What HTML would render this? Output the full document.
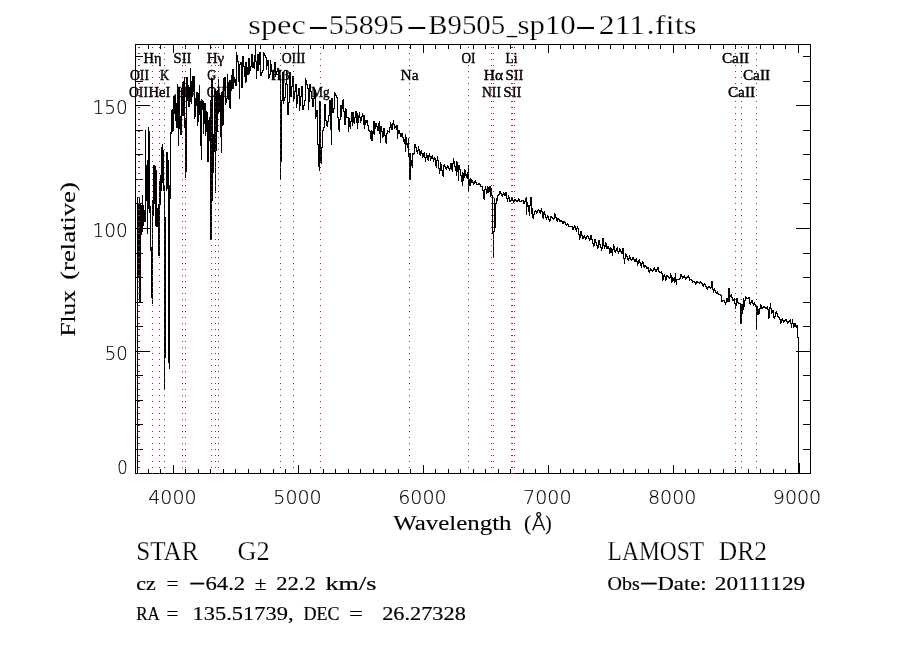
<!DOCTYPE html>
<html lang="en"><head><meta charset="utf-8"><title>spec-55895-B9505_sp10-211.fits</title>
<style>html,body{margin:0;padding:0;background:#fff;overflow:hidden}svg{display:block;will-change:transform;opacity:.999}.s{font-family:"Liberation Serif","DejaVu Serif",serif;fill:#000}.n{font-family:"DejaVu Sans","Liberation Sans",sans-serif;font-weight:200;fill:#000}</style></head><body>
<svg width="900" height="650" viewBox="0 0 900 650">
<rect x="0" y="0" width="900" height="650" fill="#fff"/>
<g fill="#000" shape-rendering="crispEdges">
<rect x="135" y="44" width="676" height="1"/>
<rect x="135" y="473" width="676" height="1"/>
<rect x="135" y="44" width="1" height="430"/>
<rect x="810" y="44" width="1" height="430"/>
<rect x="148" y="469" width="1" height="5"/>
<rect x="148" y="44" width="1" height="5"/>
<rect x="160" y="469" width="1" height="5"/>
<rect x="160" y="44" width="1" height="5"/>
<rect x="173" y="465" width="1" height="9"/>
<rect x="173" y="44" width="1" height="9"/>
<rect x="185" y="469" width="1" height="5"/>
<rect x="185" y="44" width="1" height="5"/>
<rect x="198" y="469" width="1" height="5"/>
<rect x="198" y="44" width="1" height="5"/>
<rect x="210" y="469" width="1" height="5"/>
<rect x="210" y="44" width="1" height="5"/>
<rect x="223" y="469" width="1" height="5"/>
<rect x="223" y="44" width="1" height="5"/>
<rect x="235" y="469" width="1" height="5"/>
<rect x="235" y="44" width="1" height="5"/>
<rect x="248" y="469" width="1" height="5"/>
<rect x="248" y="44" width="1" height="5"/>
<rect x="260" y="469" width="1" height="5"/>
<rect x="260" y="44" width="1" height="5"/>
<rect x="273" y="469" width="1" height="5"/>
<rect x="273" y="44" width="1" height="5"/>
<rect x="285" y="469" width="1" height="5"/>
<rect x="285" y="44" width="1" height="5"/>
<rect x="298" y="465" width="1" height="9"/>
<rect x="298" y="44" width="1" height="9"/>
<rect x="310" y="469" width="1" height="5"/>
<rect x="310" y="44" width="1" height="5"/>
<rect x="323" y="469" width="1" height="5"/>
<rect x="323" y="44" width="1" height="5"/>
<rect x="335" y="469" width="1" height="5"/>
<rect x="335" y="44" width="1" height="5"/>
<rect x="348" y="469" width="1" height="5"/>
<rect x="348" y="44" width="1" height="5"/>
<rect x="360" y="469" width="1" height="5"/>
<rect x="360" y="44" width="1" height="5"/>
<rect x="373" y="469" width="1" height="5"/>
<rect x="373" y="44" width="1" height="5"/>
<rect x="385" y="469" width="1" height="5"/>
<rect x="385" y="44" width="1" height="5"/>
<rect x="398" y="469" width="1" height="5"/>
<rect x="398" y="44" width="1" height="5"/>
<rect x="410" y="469" width="1" height="5"/>
<rect x="410" y="44" width="1" height="5"/>
<rect x="423" y="465" width="1" height="9"/>
<rect x="423" y="44" width="1" height="9"/>
<rect x="435" y="469" width="1" height="5"/>
<rect x="435" y="44" width="1" height="5"/>
<rect x="448" y="469" width="1" height="5"/>
<rect x="448" y="44" width="1" height="5"/>
<rect x="460" y="469" width="1" height="5"/>
<rect x="460" y="44" width="1" height="5"/>
<rect x="473" y="469" width="1" height="5"/>
<rect x="473" y="44" width="1" height="5"/>
<rect x="485" y="469" width="1" height="5"/>
<rect x="485" y="44" width="1" height="5"/>
<rect x="498" y="469" width="1" height="5"/>
<rect x="498" y="44" width="1" height="5"/>
<rect x="510" y="469" width="1" height="5"/>
<rect x="510" y="44" width="1" height="5"/>
<rect x="523" y="469" width="1" height="5"/>
<rect x="523" y="44" width="1" height="5"/>
<rect x="535" y="469" width="1" height="5"/>
<rect x="535" y="44" width="1" height="5"/>
<rect x="548" y="465" width="1" height="9"/>
<rect x="548" y="44" width="1" height="9"/>
<rect x="560" y="469" width="1" height="5"/>
<rect x="560" y="44" width="1" height="5"/>
<rect x="573" y="469" width="1" height="5"/>
<rect x="573" y="44" width="1" height="5"/>
<rect x="585" y="469" width="1" height="5"/>
<rect x="585" y="44" width="1" height="5"/>
<rect x="598" y="469" width="1" height="5"/>
<rect x="598" y="44" width="1" height="5"/>
<rect x="610" y="469" width="1" height="5"/>
<rect x="610" y="44" width="1" height="5"/>
<rect x="623" y="469" width="1" height="5"/>
<rect x="623" y="44" width="1" height="5"/>
<rect x="635" y="469" width="1" height="5"/>
<rect x="635" y="44" width="1" height="5"/>
<rect x="648" y="469" width="1" height="5"/>
<rect x="648" y="44" width="1" height="5"/>
<rect x="660" y="469" width="1" height="5"/>
<rect x="660" y="44" width="1" height="5"/>
<rect x="673" y="465" width="1" height="9"/>
<rect x="673" y="44" width="1" height="9"/>
<rect x="685" y="469" width="1" height="5"/>
<rect x="685" y="44" width="1" height="5"/>
<rect x="698" y="469" width="1" height="5"/>
<rect x="698" y="44" width="1" height="5"/>
<rect x="710" y="469" width="1" height="5"/>
<rect x="710" y="44" width="1" height="5"/>
<rect x="723" y="469" width="1" height="5"/>
<rect x="723" y="44" width="1" height="5"/>
<rect x="735" y="469" width="1" height="5"/>
<rect x="735" y="44" width="1" height="5"/>
<rect x="748" y="469" width="1" height="5"/>
<rect x="748" y="44" width="1" height="5"/>
<rect x="760" y="469" width="1" height="5"/>
<rect x="760" y="44" width="1" height="5"/>
<rect x="773" y="469" width="1" height="5"/>
<rect x="773" y="44" width="1" height="5"/>
<rect x="785" y="469" width="1" height="5"/>
<rect x="785" y="44" width="1" height="5"/>
<rect x="798" y="465" width="1" height="9"/>
<rect x="798" y="44" width="1" height="9"/>
<rect x="135" y="449" width="8" height="1"/>
<rect x="803" y="449" width="8" height="1"/>
<rect x="135" y="424" width="8" height="1"/>
<rect x="803" y="424" width="8" height="1"/>
<rect x="135" y="400" width="8" height="1"/>
<rect x="803" y="400" width="8" height="1"/>
<rect x="135" y="375" width="8" height="1"/>
<rect x="803" y="375" width="8" height="1"/>
<rect x="135" y="351" width="15" height="1"/>
<rect x="796" y="351" width="15" height="1"/>
<rect x="135" y="326" width="8" height="1"/>
<rect x="803" y="326" width="8" height="1"/>
<rect x="135" y="302" width="8" height="1"/>
<rect x="803" y="302" width="8" height="1"/>
<rect x="135" y="277" width="8" height="1"/>
<rect x="803" y="277" width="8" height="1"/>
<rect x="135" y="253" width="8" height="1"/>
<rect x="803" y="253" width="8" height="1"/>
<rect x="135" y="228" width="15" height="1"/>
<rect x="796" y="228" width="15" height="1"/>
<rect x="135" y="203" width="8" height="1"/>
<rect x="803" y="203" width="8" height="1"/>
<rect x="135" y="179" width="8" height="1"/>
<rect x="803" y="179" width="8" height="1"/>
<rect x="135" y="154" width="8" height="1"/>
<rect x="803" y="154" width="8" height="1"/>
<rect x="135" y="130" width="8" height="1"/>
<rect x="803" y="130" width="8" height="1"/>
<rect x="135" y="105" width="15" height="1"/>
<rect x="796" y="105" width="15" height="1"/>
<rect x="135" y="81" width="8" height="1"/>
<rect x="803" y="81" width="8" height="1"/>
<rect x="135" y="56" width="8" height="1"/>
<rect x="803" y="56" width="8" height="1"/>
</g>
<path d="M137.5 197V474M138.5 203V277M139.5 197V303M140.5 204V303M141.5 205V235M142.5 195V232M143.5 205V226M144.5 210V222M145.5 130V222M146.5 165V201M147.5 160V234M148.5 127V209M149.5 131V213M150.5 206V251M151.5 247V298M152.5 200V304M153.5 165V216M154.5 165V204M155.5 166V226M156.5 170V227M157.5 208V227M158.5 204V256M159.5 181V256M160.5 175V205M161.5 147V191M162.5 144V183M163.5 150V191M164.5 185V390M165.5 217V358M166.5 152V191M167.5 152V189M168.5 160V363M169.5 185V369M170.5 132V199M171.5 110V134M172.5 109V132M173.5 96V131M174.5 95V114M175.5 94V121M176.5 103V128M177.5 84V128M178.5 87V146M179.5 87V129M180.5 116V135M181.5 88V135M182.5 82V116M183.5 81V116M184.5 77V128M185.5 118V178M186.5 77V172M187.5 77V101M188.5 85V107M189.5 87V107M190.5 68V102M191.5 81V104M192.5 76V97M193.5 76V92M194.5 76V119M195.5 98V117M196.5 92V106M197.5 92V126M198.5 93V122M199.5 85V115M200.5 101V146M201.5 99V160M202.5 100V110M203.5 101V134M204.5 103V124M205.5 103V136M206.5 111V132M207.5 112V162M208.5 120V162M209.5 117V141M210.5 100V240M211.5 78V240M212.5 78V201M213.5 134V173M214.5 90V152M215.5 92V193M216.5 91V151M217.5 90V132M218.5 79V113M219.5 93V112M220.5 95V137M221.5 92V153M222.5 91V126M223.5 78V125M224.5 77V91M225.5 77V105M226.5 98V103M227.5 74V99M228.5 82V100M229.5 80V108M230.5 80V109M231.5 75V91M232.5 69V89M233.5 69V89M234.5 77V83M235.5 79V86M236.5 52V86M237.5 55V62M238.5 61V82M239.5 64V99M240.5 62V65M241.5 62V88M242.5 56V88M243.5 56V67M244.5 66V77M245.5 62V83M246.5 62V82M247.5 67V75M248.5 58V75M249.5 58V74M250.5 66V71M251.5 54V67M252.5 54V68M253.5 62V68M254.5 55V69M255.5 45V62M256.5 61V79M257.5 54V71M258.5 54V71M259.5 52V65M260.5 52V76M261.5 72V76M262.5 70V73M263.5 52V71M264.5 53V56M265.5 55V58M266.5 57V70M267.5 60V66M268.5 60V79M269.5 74V78M270.5 60V75M271.5 64V72M272.5 71V80M273.5 71V80M274.5 62V72M275.5 62V77M276.5 71V75M277.5 68V72M278.5 68V80M279.5 75V78M280.5 75V180M281.5 100V162M282.5 72V101M283.5 72V104M284.5 97V101M285.5 83V98M286.5 70V85M287.5 84V115M288.5 102V115M289.5 72V103M290.5 72V97M291.5 86V97M292.5 76V87M293.5 76V102M294.5 91V99M295.5 84V92M296.5 84V108M297.5 95V104M298.5 88V96M299.5 88V111M300.5 96V106M301.5 86V97M302.5 86V110M303.5 105V110M304.5 100V106M305.5 78V101M306.5 80V85M307.5 84V89M308.5 88V110M309.5 84V102M310.5 84V92M311.5 91V99M312.5 98V107M313.5 98V107M314.5 90V99M315.5 90V119M316.5 110V117M317.5 110V145M318.5 144V167M319.5 101V171M320.5 101V163M321.5 147V164M322.5 130V148M323.5 127V131M324.5 104V128M325.5 104V121M326.5 120V126M327.5 121V127M328.5 115V122M329.5 100V116M330.5 100V130M331.5 98V145M332.5 98V113M333.5 108V113M334.5 92V109M335.5 93V96M336.5 95V98M337.5 97V118M338.5 117V130M339.5 119V132M340.5 105V120M341.5 105V117M342.5 100V109M343.5 99V112M344.5 111V125M345.5 108V125M346.5 109V118M347.5 117V118M348.5 117V132M349.5 118V127M350.5 121V129M351.5 112V122M352.5 112V126M353.5 112V123M354.5 117V124M355.5 111V118M356.5 111V123M357.5 113V129M358.5 115V123M359.5 112V118M360.5 117V123M361.5 116V121M362.5 113V117M363.5 115V125M364.5 115V129M365.5 120V125M366.5 120V123M367.5 120V126M368.5 125V131M369.5 130V132M370.5 131V139M371.5 130V141M372.5 131V141M373.5 121V134M374.5 121V135M375.5 123V129M376.5 123V127M377.5 126V131M378.5 123V131M379.5 121V134M380.5 126V143M381.5 126V132M382.5 131V138M383.5 128V137M384.5 128V136M385.5 135V143M386.5 133V144M387.5 130V134M388.5 131V132M389.5 127V133M390.5 122V128M391.5 124V130M392.5 123V130M393.5 120V125M394.5 124V129M395.5 126V128M396.5 125V130M397.5 125V139M398.5 130V134M399.5 130V134M400.5 133V137M401.5 133V137M402.5 133V138M403.5 137V142M404.5 139V144M405.5 134V152M406.5 137V145M407.5 143V148M408.5 138V157M409.5 153V180M410.5 153V180M411.5 160V166M412.5 153V168M413.5 153V155M414.5 144V154M415.5 144V148M416.5 147V152M417.5 150V154M418.5 146V151M419.5 149V155M420.5 151V156M421.5 150V154M422.5 153V158M423.5 153V157M424.5 152V158M425.5 157V162M426.5 153V158M427.5 155V160M428.5 155V161M429.5 153V157M430.5 156V161M431.5 156V159M432.5 155V159M433.5 158V162M434.5 157V160M435.5 158V166M436.5 160V168M437.5 156V161M438.5 160V169M439.5 168V174M440.5 162V171M441.5 164V171M442.5 170V176M443.5 165V177M444.5 164V167M445.5 166V169M446.5 167V170M447.5 165V168M448.5 166V169M449.5 168V171M450.5 163V169M451.5 163V170M452.5 163V172M453.5 158V164M454.5 161V167M455.5 166V171M456.5 161V176M457.5 162V172M458.5 165V181M459.5 165V170M460.5 169V176M461.5 175V182M462.5 172V186M463.5 173V181M464.5 169V178M465.5 170V176M466.5 174V178M467.5 172V179M468.5 165V191M469.5 179V186M470.5 178V186M471.5 179V183M472.5 180V183M473.5 182V185M474.5 181V184M475.5 180V183M476.5 182V185M477.5 184V185M478.5 183V185M479.5 183V185M480.5 184V187M481.5 186V187M482.5 186V191M483.5 190V199M484.5 189V200M485.5 186V190M486.5 189V194M487.5 186V193M488.5 187V193M489.5 186V192M490.5 186V197M491.5 188V196M492.5 195V234M493.5 231V258M494.5 198V232M495.5 203V228M496.5 198V204M497.5 195V201M498.5 194V196M499.5 191V195M500.5 191V194M501.5 193V196M502.5 194V197M503.5 192V195M504.5 193V196M505.5 192V196M506.5 192V199M507.5 198V202M508.5 195V199M509.5 197V202M510.5 200V202M511.5 198V201M512.5 198V201M513.5 200V203M514.5 199V202M515.5 199V201M516.5 200V202M517.5 200V202M518.5 198V201M519.5 199V202M520.5 201V202M521.5 200V202M522.5 200V201M523.5 200V204M524.5 201V204M525.5 198V202M526.5 197V215M527.5 202V207M528.5 205V212M529.5 205V216M530.5 197V206M531.5 197V214M532.5 208V218M533.5 214V219M534.5 211V215M535.5 210V212M536.5 211V214M537.5 210V213M538.5 209V211M539.5 210V213M540.5 210V214M541.5 208V212M542.5 211V218M543.5 212V219M544.5 211V215M545.5 214V218M546.5 217V220M547.5 215V218M548.5 216V220M549.5 219V222M550.5 216V221M551.5 216V218M552.5 217V219M553.5 218V220M554.5 213V219M555.5 214V218M556.5 217V221M557.5 218V222M558.5 218V220M559.5 219V222M560.5 220V222M561.5 220V222M562.5 221V224M563.5 221V224M564.5 221V223M565.5 222V225M566.5 224V226M567.5 223V225M568.5 224V227M569.5 226V227M570.5 226V227M571.5 226V227M572.5 226V230M573.5 227V230M574.5 225V228M575.5 226V230M576.5 228V232M577.5 226V229M578.5 228V235M579.5 234V240M580.5 231V238M581.5 231V236M582.5 235V239M583.5 236V239M584.5 235V238M585.5 237V240M586.5 236V239M587.5 235V237M588.5 236V239M589.5 238V241M590.5 235V240M591.5 235V240M592.5 239V244M593.5 243V247M594.5 239V246M595.5 239V243M596.5 242V246M597.5 245V249M598.5 240V248M599.5 240V245M600.5 244V248M601.5 247V251M602.5 238V249M603.5 238V246M604.5 245V249M605.5 242V247M606.5 243V249M607.5 246V249M608.5 246V249M609.5 248V254M610.5 247V253M611.5 248V253M612.5 249V256M613.5 244V250M614.5 246V252M615.5 250V253M616.5 248V251M617.5 247V252M618.5 251V254M619.5 248V252M620.5 249V252M621.5 251V254M622.5 248V254M623.5 248V259M624.5 258V264M625.5 253V259M626.5 254V257M627.5 256V260M628.5 258V261M629.5 255V259M630.5 257V260M631.5 259V261M632.5 257V260M633.5 257V260M634.5 259V262M635.5 259V262M636.5 258V262M637.5 261V266M638.5 260V264M639.5 259V263M640.5 262V266M641.5 263V268M642.5 261V264M643.5 262V267M644.5 265V268M645.5 265V267M646.5 266V269M647.5 267V269M648.5 267V272M649.5 270V273M650.5 268V271M651.5 269V271M652.5 270V272M653.5 268V271M654.5 267V270M655.5 269V272M656.5 269V272M657.5 267V270M658.5 267V272M659.5 271V273M660.5 272V273M661.5 271V274M662.5 273V281M663.5 275V280M664.5 274V277M665.5 276V281M666.5 275V280M667.5 275V277M668.5 276V278M669.5 277V279M670.5 273V278M671.5 275V283M672.5 277V282M673.5 278V281M674.5 277V283M675.5 273V282M676.5 279V285M677.5 279V280M678.5 279V280M679.5 278V280M680.5 274V279M681.5 274V277M682.5 276V279M683.5 276V278M684.5 275V278M685.5 277V280M686.5 277V279M687.5 276V278M688.5 275V278M689.5 277V281M690.5 279V280M691.5 279V281M692.5 280V283M693.5 281V282M694.5 281V283M695.5 282V285M696.5 281V284M697.5 281V283M698.5 282V283M699.5 282V284M700.5 281V283M701.5 282V284M702.5 283V286M703.5 284V287M704.5 283V285M705.5 284V287M706.5 286V289M707.5 287V290M708.5 286V288M709.5 286V288M710.5 287V289M711.5 281V288M712.5 281V290M713.5 289V293M714.5 288V291M715.5 290V293M716.5 292V294M717.5 291V294M718.5 293V295M719.5 294V295M720.5 294V296M721.5 295V302M722.5 300V302M723.5 300V301M724.5 300V303M725.5 302V305M726.5 298V303M727.5 298V302M728.5 288V302M729.5 288V302M730.5 295V297M731.5 294V298M732.5 297V301M733.5 299V301M734.5 298V304M735.5 303V309M736.5 298V306M737.5 298V303M738.5 302V304M739.5 303V304M740.5 303V324M741.5 304V323M742.5 304V314M743.5 298V310M744.5 300V307M745.5 296V301M746.5 297V299M747.5 298V299M748.5 297V299M749.5 297V304M750.5 302V305M751.5 300V303M752.5 300V304M753.5 303V306M754.5 302V305M755.5 304V307M756.5 305V329M757.5 306V315M758.5 309V315M759.5 308V314M760.5 304V309M761.5 305V309M762.5 307V309M763.5 306V308M764.5 306V308M765.5 307V309M766.5 307V309M767.5 306V310M768.5 309V319M769.5 307V318M770.5 303V309M771.5 308V314M772.5 310V313M773.5 310V318M774.5 316V319M775.5 312V317M776.5 311V314M777.5 313V317M778.5 316V318M779.5 317V320M780.5 319V324M781.5 319V323M782.5 318V321M783.5 320V323M784.5 320V322M785.5 319V321M786.5 319V322M787.5 321V324M788.5 321V323M789.5 320V322M790.5 319V324M791.5 323V328M792.5 319V324M793.5 323V328M794.5 323V327M795.5 323V327M796.5 325V328M797.5 325V338M798.5 337V474M799.5 463V474" fill="none" stroke="#000" stroke-width="1" shape-rendering="crispEdges" stroke-linejoin="miter"/>
<g stroke="#b22222" stroke-width="1" stroke-dasharray="1 5" shape-rendering="crispEdges">
<line x1="138.5" y1="47" x2="138.5" y2="474"/>
<line x1="139.5" y1="47" x2="139.5" y2="474"/>
<line x1="152.5" y1="47" x2="152.5" y2="474"/>
<line x1="159.5" y1="47" x2="159.5" y2="474"/>
<line x1="164.5" y1="47" x2="164.5" y2="474"/>
<line x1="182.5" y1="47" x2="182.5" y2="474"/>
<line x1="185.5" y1="47" x2="185.5" y2="474"/>
<line x1="211.5" y1="47" x2="211.5" y2="474"/>
<line x1="215.5" y1="47" x2="215.5" y2="474"/>
<line x1="218.5" y1="47" x2="218.5" y2="474"/>
<line x1="280.5" y1="47" x2="280.5" y2="474"/>
<line x1="293.5" y1="47" x2="293.5" y2="474"/>
<line x1="320.5" y1="47" x2="320.5" y2="474"/>
<line x1="409.5" y1="47" x2="409.5" y2="474"/>
<line x1="468.5" y1="47" x2="468.5" y2="474"/>
<line x1="491.5" y1="47" x2="491.5" y2="474"/>
<line x1="493.5" y1="47" x2="493.5" y2="474"/>
<line x1="511.5" y1="47" x2="511.5" y2="474"/>
<line x1="512.5" y1="47" x2="512.5" y2="474"/>
<line x1="514.5" y1="47" x2="514.5" y2="474"/>
<line x1="735.5" y1="47" x2="735.5" y2="474"/>
<line x1="741.5" y1="47" x2="741.5" y2="474"/>
<line x1="756.5" y1="47" x2="756.5" y2="474"/>
</g>
<text class="s" font-size="26.6" y="33.5" xml:space="preserve" stroke="#fff" stroke-width="0.25"><tspan x="248.3" y="33.5" textLength="57.5" lengthAdjust="spacingAndGlyphs">spec</tspan><tspan x="307.5" y="33.5" stroke="none" textLength="21.6" lengthAdjust="spacingAndGlyphs">-</tspan><tspan x="328.8" y="33.5" textLength="74.9" lengthAdjust="spacingAndGlyphs">55895</tspan><tspan x="406.1" y="33.5" stroke="none" textLength="21.6" lengthAdjust="spacingAndGlyphs">-</tspan><tspan x="428.3" y="33.5" textLength="76.9" lengthAdjust="spacingAndGlyphs">B9505</tspan><tspan x="506.8" y="33.5" textLength="10.4" lengthAdjust="spacingAndGlyphs">_</tspan><tspan x="517.5" y="33.5" textLength="58.3" lengthAdjust="spacingAndGlyphs">sp10</tspan><tspan x="574.8" y="33.5" stroke="none" textLength="21.6" lengthAdjust="spacingAndGlyphs">-</tspan><tspan x="598.8" y="33.5" textLength="46.4" lengthAdjust="spacingAndGlyphs">211</tspan><tspan x="646.5" y="33.5" textLength="50.1" lengthAdjust="spacingAndGlyphs">.fits</tspan></text>
<text class="n" font-size="19.2" y="504" xml:space="preserve" stroke="#000" stroke-width="0.12"><tspan x="148.20000000000002" y="504" textLength="48.4" lengthAdjust="spacingAndGlyphs">4000</tspan></text>
<text class="n" font-size="19.2" y="504" xml:space="preserve" stroke="#000" stroke-width="0.12"><tspan x="273.3" y="504" textLength="48.4" lengthAdjust="spacingAndGlyphs">5000</tspan></text>
<text class="n" font-size="19.2" y="504" xml:space="preserve" stroke="#000" stroke-width="0.12"><tspan x="398.2" y="504" textLength="48.4" lengthAdjust="spacingAndGlyphs">6000</tspan></text>
<text class="n" font-size="19.2" y="504" xml:space="preserve" stroke="#000" stroke-width="0.12"><tspan x="523.0999999999999" y="504" textLength="48.4" lengthAdjust="spacingAndGlyphs">7000</tspan></text>
<text class="n" font-size="19.2" y="504" xml:space="preserve" stroke="#000" stroke-width="0.12"><tspan x="648.0" y="504" textLength="48.4" lengthAdjust="spacingAndGlyphs">8000</tspan></text>
<text class="n" font-size="19.2" y="504" xml:space="preserve" stroke="#000" stroke-width="0.12"><tspan x="772.8" y="504" textLength="48.4" lengthAdjust="spacingAndGlyphs">9000</tspan></text>
<text class="n" font-size="19.2" y="473.5" xml:space="preserve" stroke="#000" stroke-width="0.12"><tspan x="117.3" y="473.5" textLength="10.5" lengthAdjust="spacingAndGlyphs">0</tspan></text>
<text class="n" font-size="19.2" y="360" xml:space="preserve" stroke="#000" stroke-width="0.12"><tspan x="104.8" y="360" textLength="23.0" lengthAdjust="spacingAndGlyphs">50</tspan></text>
<text class="n" font-size="19.2" y="237" xml:space="preserve" stroke="#000" stroke-width="0.12"><tspan x="92.6" y="237" textLength="35.2" lengthAdjust="spacingAndGlyphs">100</tspan></text>
<text class="n" font-size="19.2" y="114" xml:space="preserve" stroke="#000" stroke-width="0.12"><tspan x="92.6" y="114" textLength="35.2" lengthAdjust="spacingAndGlyphs">150</tspan></text>
<text class="s" font-size="21.6" y="529.6" xml:space="preserve" stroke="#000" stroke-width="0.12"><tspan x="393.2" y="529.6" textLength="118.4" lengthAdjust="spacingAndGlyphs">Wavelength</tspan> <tspan x="524.0" y="529.6" textLength="7.2" lengthAdjust="spacingAndGlyphs">(</tspan><tspan x="531.8" class="n" font-size="19.5" stroke-width="0.3" y="529.6" textLength="14.0" lengthAdjust="spacingAndGlyphs">Å</tspan><tspan x="545.2" y="529.6" textLength="6.4" lengthAdjust="spacingAndGlyphs">)</tspan></text>
<text class="s" font-size="21.6" y="74.6" xml:space="preserve" transform="rotate(-90)" stroke="#000" stroke-width="0.12"><tspan x="-336.6" y="74.6" textLength="46.4" lengthAdjust="spacingAndGlyphs">Flux</tspan> <tspan x="-279.8" y="74.6" textLength="97.6" lengthAdjust="spacingAndGlyphs">(relative)</tspan></text>
<text class="s" font-size="26.6" y="560.2" xml:space="preserve" stroke="#fff" stroke-width="0.25"><tspan x="136.2" y="560.2" textLength="62.3" lengthAdjust="spacingAndGlyphs">STAR</tspan>    <tspan x="237.5" y="560.2" textLength="32.2" lengthAdjust="spacingAndGlyphs">G2</tspan></text>
<text class="s" font-size="19.6" y="589.6" xml:space="preserve" stroke="#000" stroke-width="0.18"><tspan x="136.2" y="589.6" textLength="19.6" lengthAdjust="spacingAndGlyphs">cz</tspan> <tspan x="166.6" y="589.6" textLength="12.0" lengthAdjust="spacingAndGlyphs">=</tspan> <tspan x="188.6" y="588.13" textLength="17.4" lengthAdjust="spacingAndGlyphs">-</tspan><tspan x="205.5" y="589.6" textLength="39.7" lengthAdjust="spacingAndGlyphs">64.2</tspan> <tspan x="254.8" y="589.6" textLength="11.8" lengthAdjust="spacingAndGlyphs">±</tspan> <tspan x="276.2" y="589.6" textLength="39.6" lengthAdjust="spacingAndGlyphs">22.2</tspan> <tspan x="325.5" y="589.6" textLength="51.0" lengthAdjust="spacingAndGlyphs">km/s</tspan></text>
<text class="s" font-size="19.6" y="619.7" xml:space="preserve" stroke="#000" stroke-width="0.18"><tspan x="136.2" y="619.7" textLength="22.6" lengthAdjust="spacingAndGlyphs">RA</tspan> <tspan x="166.6" y="619.7" textLength="12.0" lengthAdjust="spacingAndGlyphs">=</tspan> <tspan x="192.5" y="619.7" textLength="101.0" lengthAdjust="spacingAndGlyphs">135.51739,</tspan> <tspan x="303.5" y="619.7" textLength="36.0" lengthAdjust="spacingAndGlyphs">DEC</tspan> <tspan x="349.0" y="619.7" textLength="14.0" lengthAdjust="spacingAndGlyphs">=</tspan>  <tspan x="382.2" y="619.7" textLength="83.6" lengthAdjust="spacingAndGlyphs">26.27328</tspan></text>
<text class="s" font-size="26.6" y="560.2" xml:space="preserve" stroke="#fff" stroke-width="0.25"><tspan x="607.6" y="560.2" textLength="96.2" lengthAdjust="spacingAndGlyphs">LAMOST</tspan> <tspan x="718.8" y="560.2" textLength="48.2" lengthAdjust="spacingAndGlyphs">DR2</tspan></text>
<text class="s" font-size="19.6" y="589.7" xml:space="preserve" stroke="#000" stroke-width="0.18"><tspan x="607.6" y="589.7" textLength="32.2" lengthAdjust="spacingAndGlyphs">Obs</tspan><tspan x="639.0" y="588.23" textLength="19.6" lengthAdjust="spacingAndGlyphs">-</tspan><tspan x="657.5" y="589.7" textLength="49.0" lengthAdjust="spacingAndGlyphs">Date:</tspan> <tspan x="714.8" y="589.7" textLength="90.4" lengthAdjust="spacingAndGlyphs">20111129</tspan></text>
<text class="s" font-size="15.5" y="96.9" xml:space="preserve" stroke="#000" stroke-width="0.42"><tspan x="129.07" y="96.9" textLength="18.86" lengthAdjust="spacingAndGlyphs">OII</tspan></text>
<text class="s" font-size="15.5" y="80.0" xml:space="preserve" stroke="#000" stroke-width="0.42"><tspan x="130.07" y="80.0" textLength="18.86" lengthAdjust="spacingAndGlyphs">OII</tspan></text>
<text class="s" font-size="15.5" y="63.2" xml:space="preserve" stroke="#000" stroke-width="0.42"><tspan x="143.51" y="63.2" textLength="17.98" lengthAdjust="spacingAndGlyphs">Hη</tspan></text>
<text class="s" font-size="15.5" y="96.9" xml:space="preserve" stroke="#000" stroke-width="0.42"><tspan x="148.53" y="96.9" textLength="21.94" lengthAdjust="spacingAndGlyphs">HeI</tspan></text>
<text class="s" font-size="15.5" y="80.0" xml:space="preserve" stroke="#000" stroke-width="0.42"><tspan x="159.91" y="80.0" textLength="9.18" lengthAdjust="spacingAndGlyphs">K</tspan></text>
<text class="s" font-size="15.5" y="63.2" xml:space="preserve" stroke="#000" stroke-width="0.42"><tspan x="173.51" y="63.2" textLength="17.98" lengthAdjust="spacingAndGlyphs">SII</tspan></text>
<text class="s" font-size="15.5" y="96.9" xml:space="preserve" stroke="#000" stroke-width="0.42"><tspan x="176.95" y="96.9" textLength="17.1" lengthAdjust="spacingAndGlyphs">Hδ</tspan></text>
<text class="s" font-size="15.5" y="80.0" xml:space="preserve" stroke="#000" stroke-width="0.42"><tspan x="207.13" y="80.0" textLength="8.74" lengthAdjust="spacingAndGlyphs">G</tspan></text>
<text class="s" font-size="15.5" y="63.2" xml:space="preserve" stroke="#000" stroke-width="0.42"><tspan x="206.73" y="63.2" textLength="17.54" lengthAdjust="spacingAndGlyphs">Hγ</tspan></text>
<text class="s" font-size="15.5" y="96.9" xml:space="preserve" stroke="#000" stroke-width="0.42"><tspan x="206.65" y="96.9" textLength="23.7" lengthAdjust="spacingAndGlyphs">OIII</tspan></text>
<text class="s" font-size="15.5" y="80.0" xml:space="preserve" stroke="#000" stroke-width="0.42"><tspan x="271.29" y="80.0" textLength="18.42" lengthAdjust="spacingAndGlyphs">Hβ</tspan></text>
<text class="s" font-size="15.5" y="63.2" xml:space="preserve" stroke="#000" stroke-width="0.42"><tspan x="281.65" y="63.2" textLength="23.7" lengthAdjust="spacingAndGlyphs">OIII</tspan></text>
<text class="s" font-size="15.5" y="96.9" xml:space="preserve" stroke="#000" stroke-width="0.42"><tspan x="311.29" y="96.9" textLength="18.42" lengthAdjust="spacingAndGlyphs">Mg</tspan></text>
<text class="s" font-size="15.5" y="80.0" xml:space="preserve" stroke="#000" stroke-width="0.42"><tspan x="400.51" y="80.0" textLength="17.98" lengthAdjust="spacingAndGlyphs">Na</tspan></text>
<text class="s" font-size="15.5" y="63.2" xml:space="preserve" stroke="#000" stroke-width="0.42"><tspan x="461.49" y="63.2" textLength="14.02" lengthAdjust="spacingAndGlyphs">OI</tspan></text>
<text class="s" font-size="15.5" y="96.9" xml:space="preserve" stroke="#000" stroke-width="0.42"><tspan x="482.07" y="96.9" textLength="18.86" lengthAdjust="spacingAndGlyphs">NII</tspan></text>
<text class="s" font-size="15.5" y="80.0" xml:space="preserve" stroke="#000" stroke-width="0.42"><tspan x="483.85" y="80.0" textLength="19.3" lengthAdjust="spacingAndGlyphs">Hα</tspan></text>
<text class="s" font-size="15.5" y="63.2" xml:space="preserve" stroke="#000" stroke-width="0.42"><tspan x="505.59" y="63.2" textLength="11.82" lengthAdjust="spacingAndGlyphs">Li</tspan></text>
<text class="s" font-size="15.5" y="96.9" xml:space="preserve" stroke="#000" stroke-width="0.42"><tspan x="503.51" y="96.9" textLength="17.98" lengthAdjust="spacingAndGlyphs">SII</tspan></text>
<text class="s" font-size="15.5" y="80.0" xml:space="preserve" stroke="#000" stroke-width="0.42"><tspan x="505.51" y="80.0" textLength="17.98" lengthAdjust="spacingAndGlyphs">SII</tspan></text>
<text class="s" font-size="15.5" y="63.2" xml:space="preserve" stroke="#000" stroke-width="0.42"><tspan x="721.89" y="63.2" textLength="27.22" lengthAdjust="spacingAndGlyphs">CaII</tspan></text>
<text class="s" font-size="15.5" y="96.9" xml:space="preserve" stroke="#000" stroke-width="0.42"><tspan x="727.89" y="96.9" textLength="27.22" lengthAdjust="spacingAndGlyphs">CaII</tspan></text>
<text class="s" font-size="15.5" y="80.0" xml:space="preserve" stroke="#000" stroke-width="0.42"><tspan x="742.89" y="80.0" textLength="27.22" lengthAdjust="spacingAndGlyphs">CaII</tspan></text>
</svg></body></html>
